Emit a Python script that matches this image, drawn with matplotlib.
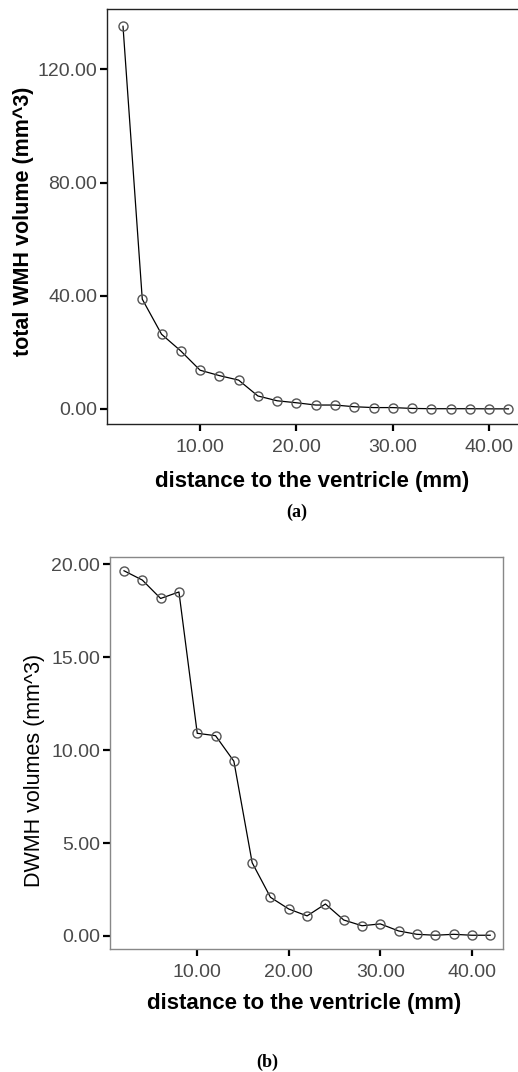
# coding: utf-8

import matplotlib
matplotlib.use('Agg')
from matplotlib import pyplot as plt

## data
distance = [2, 4, 6, 8, 10, 12, 14, 16, 18, 20, 22,
            24, 26, 28, 30, 32, 34, 36, 38, 40, 42]

total_wmh = [135.2, 38.8, 26.4, 20.5, 13.7, 11.8, 10.2, 4.6, 2.9, 2.2, 1.4,
             1.4, 0.8, 0.5, 0.5, 0.2, 0.1, 0.1, 0.1, 0.05, 0.05]

dwmh = [19.64, 19.14, 18.15, 18.5, 10.9, 10.77, 9.4, 3.94, 2.08, 1.45, 1.08,
        1.72, 0.86, 0.55, 0.65, 0.27, 0.09, 0.04, 0.09, 0.04, 0.04]

xticks_a = [10, 20, 30, 40]
yticks_a = [0, 40, 80, 120]
xticks_b = [10, 20, 30, 40]
yticks_b = [0, 5, 10, 15, 20]

W, H = 518, 1072
plt.rcParams['font.family'] = ['Liberation Sans', 'DejaVu Sans']

fig = plt.figure(figsize=(W / 100, H / 100), dpi=100)


def px_axes(left, top, right, bottom):
    # pixel box (origin top-left) -> figure fraction
    return [left / W, 1 - bottom / H, (right - left) / W, (bottom - top) / H]


def draw(ax, x, y, xt, yt, spine_col):
    ax.plot(x, y, color='black', lw=0.9,
            marker='o', ms=6.5, mfc='none', mec='#555555', mew=1.0)
    ax.set_xticks(xt)
    ax.set_yticks(yt)
    ax.set_xticklabels(['{:.2f}'.format(v) for v in xt])
    ax.set_yticklabels(['{:.2f}'.format(v) for v in yt])
    ax.tick_params(direction='out', length=5, width=1.6, color='black',
                   labelsize=14, labelcolor='#4a4a4a')
    ax.tick_params(axis='x', pad=6)
    ax.tick_params(axis='y', pad=2)
    for s in ax.spines.values():
        s.set_color(spine_col)
        s.set_linewidth(1.0)


## panel (a)
ax1 = fig.add_axes(px_axes(107, 9, 520, 424))
draw(ax1, distance, total_wmh, xticks_a, yticks_a, '#222222')
ax1.spines['right'].set_visible(False)
ax1.set_xlim(0.34, 43.2)
ax1.set_ylim(-5.3, 141.3)

fig.text(312 / W, 1 - 482 / H, 'distance to the ventricle (mm)',
         ha='center', va='center', fontsize=16, fontweight='bold')
fig.text(24 / W, 1 - 221 / H, 'total WMH volume (mm^3)', rotation=90,
         ha='center', va='center', fontsize=15.5, fontweight='bold')
fig.text(297 / W, 1 - 512 / H, '(a)', ha='center', va='center',
         fontsize=13, fontweight='bold', family='Liberation Serif')

## panel (b)
ax2 = fig.add_axes(px_axes(110, 557, 503, 949))
draw(ax2, distance, dwmh, xticks_b, yticks_b, '#888888')
ax2.set_xlim(0.47, 43.4)
ax2.set_ylim(-0.7, 20.38)

fig.text(304 / W, 1 - 1003 / H, 'distance to the ventricle (mm)',
         ha='center', va='center', fontsize=16, fontweight='bold')
fig.text(35 / W, 1 - 770 / H, 'DWMH volumes (mm^3)', rotation=90,
         ha='center', va='center', fontsize=15.5)
fig.text(267 / W, 1 - 1062 / H, '(b)', ha='center', va='center',
         fontsize=13, fontweight='bold', family='Liberation Serif')

fig.savefig('out.png', dpi=100)
